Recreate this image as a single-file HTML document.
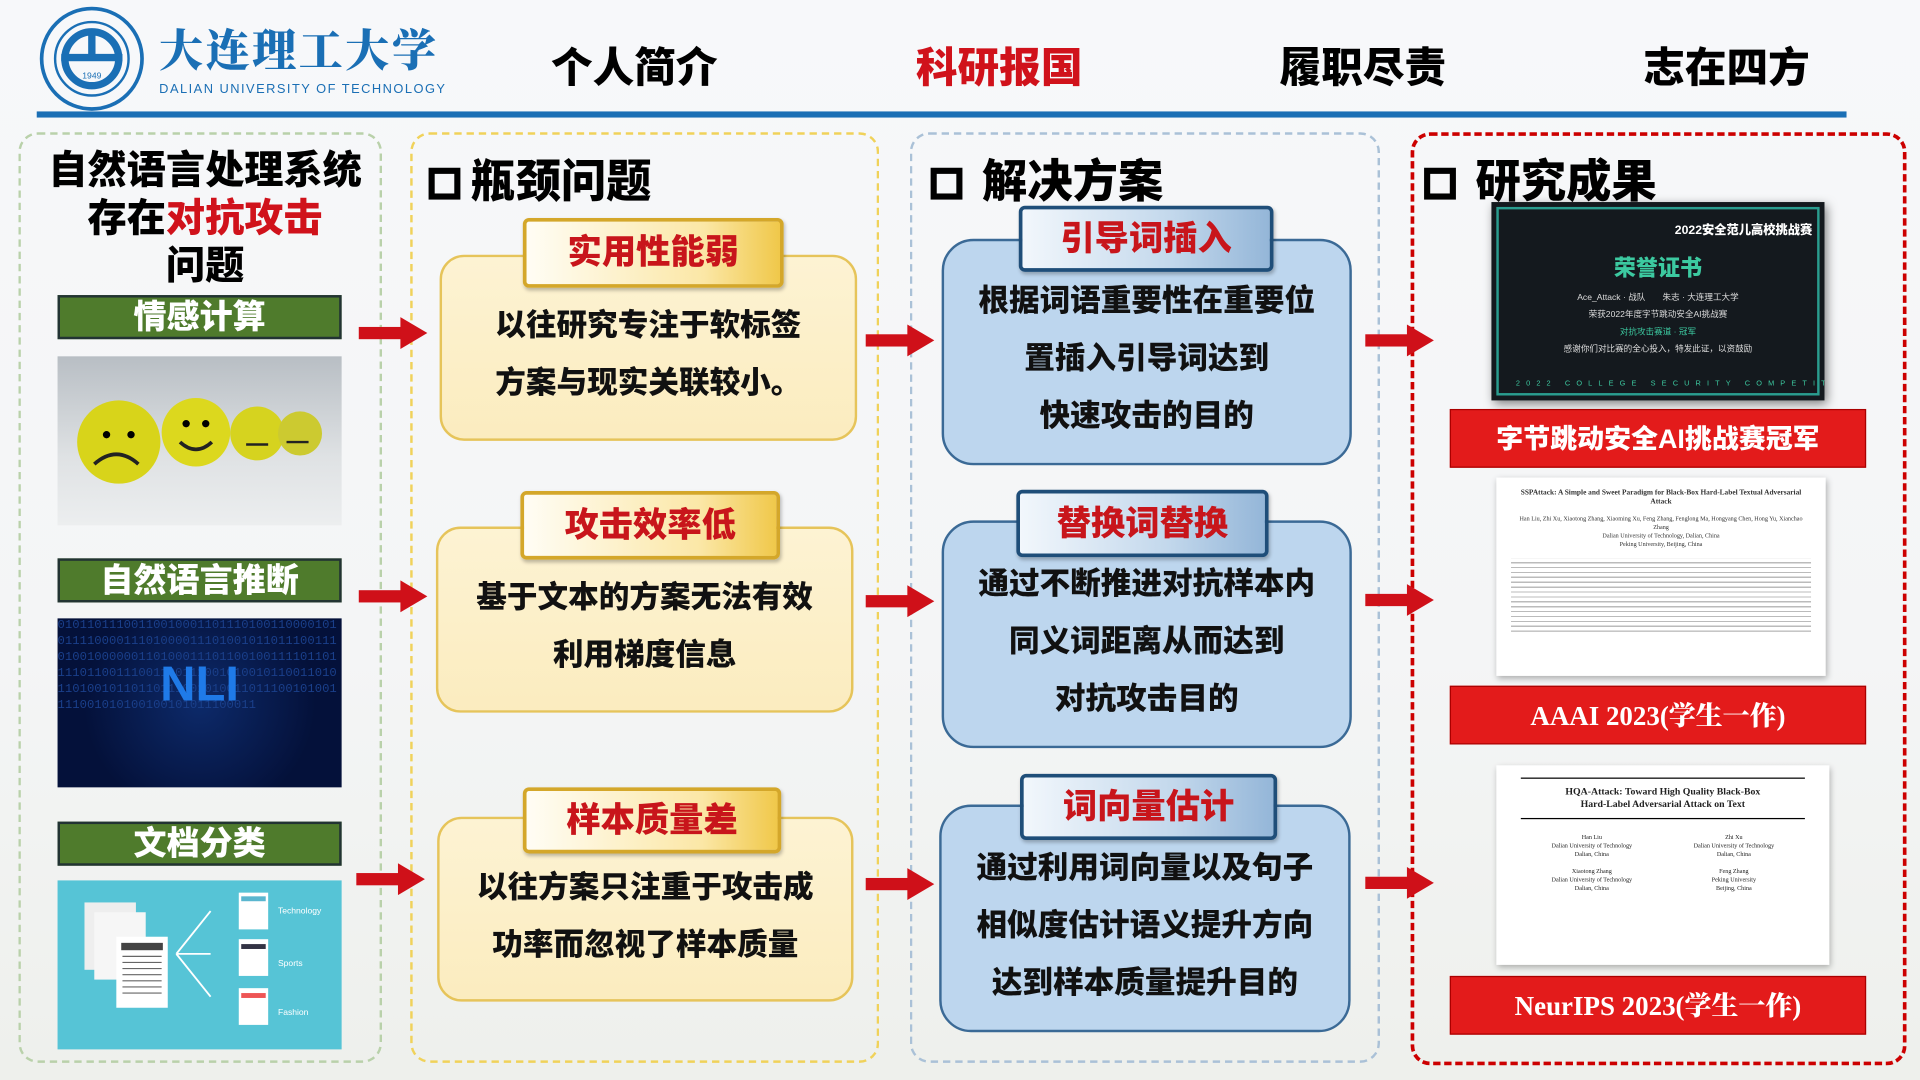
<!DOCTYPE html>
<html><head><meta charset="utf-8">
<style>
*{margin:0;padding:0;box-sizing:border-box}
html,body{width:1920px;height:1080px;overflow:hidden;background:#f3f5f7}
#s{position:absolute;left:0;top:0;width:1568px;height:882px;transform:scale(1.22449);transform-origin:0 0;
font-family:"Liberation Sans","Noto Sans CJK SC",sans-serif;background:linear-gradient(#f7f8fa 0%,#f4f5f6 60%,#eef0ec 100%)}
.a{position:absolute}
.t{font-weight:900;white-space:nowrap}
.panel{position:absolute;border:2.5px dashed;border-radius:16px}
.glab{position:absolute;left:47px;width:232px;height:36px;background:#4f7b2c;border:2px solid #233;color:#fff;font-size:27px;font-weight:900;text-align:center;line-height:32px}
.cream{position:absolute;background:linear-gradient(#fdf3d3,#fbecbf);border:2px solid #e6c45a;border-radius:20px}
.ytab{position:absolute;background:linear-gradient(90deg,#fffdf5,#fbe7a6 70%,#f0c84a);border:3px solid #d4a72a;border-radius:5px;color:#c8151b;font-size:28px;font-weight:900;text-align:center;box-shadow:1px 2px 3px rgba(0,0,0,.25)}
.blue{position:absolute;background:#bdd6ee;border:2.5px solid #3b6a96;border-radius:26px}
.btab{position:absolute;background:linear-gradient(90deg,#f2f7fc,#c3d8ec 60%,#94b6d8);border:3px solid #1f4e79;border-radius:5px;color:#c8151b;font-size:28px;font-weight:900;text-align:center;box-shadow:1px 2px 3px rgba(0,0,0,.25)}
.bt{position:absolute;font-size:25px;font-weight:900;text-align:center;white-space:nowrap;color:#111}
.rb{position:absolute;left:1184px;width:340px;height:48px;background:#e31b1b;color:#fff;font-size:22px;font-weight:900;text-align:center;line-height:48px;border:1px solid #a00}
.nav{position:absolute;top:28px;font-size:34px;font-weight:900}
.sq{display:inline-block;width:26px;height:26px;border:5px solid #000;vertical-align:-2px;margin-right:8px}
.pt{position:absolute;top:118px;font-size:37px;font-weight:900;white-space:nowrap}
</style></head><body><div id="s">

<!-- header -->
<svg class="a" style="left:30px;top:4px" width="92" height="88" viewBox="0 0 92 88">
<circle cx="45" cy="44" r="41" fill="none" stroke="#1a6fb5" stroke-width="3"/>
<circle cx="45" cy="44" r="30" fill="none" stroke="#1a6fb5" stroke-width="2"/>
<circle cx="45" cy="44" r="22" fill="none" stroke="#1a6fb5" stroke-width="6"/>
<rect x="20" y="40" width="50" height="6" fill="#1a6fb5"/>
<rect x="42" y="24" width="6" height="18" fill="#1a6fb5"/>
<text x="45" y="60" font-size="7" text-anchor="middle" fill="#1a6fb5">1949</text>
</svg>
<div class="a t" style="left:130px;top:14px;font-size:36px;color:#1a6fb5;font-family:'Liberation Serif','Noto Serif CJK SC',serif;letter-spacing:2px">大连理工大学</div>
<div class="a" style="left:130px;top:67px;font-size:10.5px;color:#1a6fb5;letter-spacing:1.2px">DALIAN UNIVERSITY OF TECHNOLOGY</div>
<div class="nav" style="left:450px">个人简介</div>
<div class="nav" style="left:748px;color:#d0121b">科研报国</div>
<div class="nav" style="left:1045px">履职尽责</div>
<div class="nav" style="left:1342px">志在四方</div>
<div class="a" style="left:30px;top:91px;width:1478px;height:5px;background:#1a6fb5"></div>

<!-- panels -->
<div class="panel" style="left:15px;top:108px;width:297px;height:760px;border-color:#b9d1aa"></div>
<div class="panel" style="left:335px;top:108px;width:383px;height:760px;border-color:#f0d25a"></div>
<div class="panel" style="left:743px;top:108px;width:384px;height:760px;border-color:#aac1d7"></div>
<div class="panel" style="left:1152px;top:108px;width:405px;height:762px;border-color:#c00;border-width:3px"></div>

<!-- panel 1 -->
<div class="a t" style="left:15px;width:305px;top:120px;text-align:center;font-size:32px;line-height:39px">自然语言处理系统<br>存在<span style="color:#d0121b">对抗攻击</span><br>问题</div>
<div class="glab" style="top:241px">情感计算</div>
<div class="a" style="left:47px;top:291px;width:232px;height:138px;background:linear-gradient(#b8bec4,#dfe2e4 60%,#eceeef);overflow:hidden">
 <svg width="232" height="138"><circle cx="50" cy="70" r="34" fill="#d8d41a"/><circle cx="113" cy="62" r="28" fill="#dcd81e"/><circle cx="163" cy="63" r="22" fill="#d6d31f"/><circle cx="198" cy="63" r="18" fill="#ccca30"/>
 <path d="M30 88 q18 -16 36 0" stroke="#222" stroke-width="3" fill="none"/><path d="M100 70 q13 12 26 0" stroke="#222" stroke-width="3" fill="none"/><circle cx="40" cy="64" r="3"/><circle cx="60" cy="64" r="3"/><circle cx="105" cy="55" r="3"/><circle cx="121" cy="55" r="3"/>
 <path d="M154 72 h18 M187 70 h18" stroke="#222" stroke-width="2"/></svg></div>
<div class="glab" style="top:456px">自然语言推断</div>
<div class="a" style="left:47px;top:505px;width:232px;height:138px;background:radial-gradient(circle at 50% 50%,#0d2a6a,#04113a 70%);overflow:hidden;color:#1a3f8a;font-size:10px;line-height:13px;font-family:'Liberation Mono',monospace;word-break:break-all">0101101110011001000110111010011000010101111000011101000011101001011011100111010010000001101000111011001001111011011110110011100110011100101001011001101011010010110110111001010011011100101001111001010100100101011100011
<div class="a t" style="left:0;width:232px;top:48px;text-align:center;font-size:40px;color:#1f7ae8;font-family:'Liberation Sans',sans-serif">NLI</div></div>
<div class="glab" style="top:671px">文档分类</div>
<div class="a" style="left:47px;top:719px;width:232px;height:138px;background:#56c4d6">
 <svg width="232" height="138"><rect x="22" y="18" width="42" height="55" fill="#eee"/><rect x="30" y="26" width="42" height="55" fill="#f6f6f6"/><rect x="48" y="46" width="42" height="58" fill="#fff"/><rect x="52" y="51" width="34" height="6" fill="#444"/>
 <g stroke="#666" stroke-width="1"><path d="M53 62h32M53 67h32M53 72h32M53 77h32M53 82h32M53 87h32M53 92h32"/></g>
 <path d="M97 60 L125 25 M97 60 L125 60 M97 60 L125 95" stroke="#fff" stroke-width="1.5" fill="none"/>
 <rect x="148" y="10" width="24" height="30" fill="#fff"/><rect x="148" y="48" width="24" height="30" fill="#fff"/><rect x="148" y="88" width="24" height="30" fill="#fff"/>
 <rect x="150" y="13" width="20" height="4" fill="#5ab6cf"/><rect x="150" y="52" width="20" height="4" fill="#334"/><rect x="150" y="92" width="20" height="4" fill="#e55"/>
 <text x="180" y="27" font-size="7" fill="#fff">Technology</text><text x="180" y="70" font-size="7" fill="#fff">Sports</text><text x="180" y="110" font-size="7" fill="#fff">Fashion</text></svg></div>

<!-- arrows -->
<svg class="a" style="left:0;top:0" width="1568" height="882">
<defs><g id="ar"><rect x="0" y="-5" width="38" height="10" fill="#cf1019"/><polygon points="34,-13 56,0 34,13" fill="#cf1019"/></g></defs>
<use href="#ar" transform="translate(293,272)"/><use href="#ar" transform="translate(293,487)"/><use href="#ar" transform="translate(291,718)"/>
<use href="#ar" transform="translate(707,278)"/><use href="#ar" transform="translate(707,491)"/><use href="#ar" transform="translate(707,722)"/>
<use href="#ar" transform="translate(1115,278)"/><use href="#ar" transform="translate(1115,490)"/><use href="#ar" transform="translate(1115,721)"/>
</svg>

<!-- panel 2 -->
<div class="pt" style="left:350px"><span class="sq"></span>瓶颈问题</div>
<div class="cream" style="left:359px;top:208px;width:341px;height:152px"></div>
<div class="ytab" style="left:427px;top:178px;width:213px;height:57px;line-height:50px">实用性能弱</div>
<div class="bt" style="left:359px;width:341px;top:243px;line-height:47px">以往研究专注于软标签<br>方案与现实关联较小。</div>
<div class="cream" style="left:356px;top:430px;width:341px;height:152px"></div>
<div class="ytab" style="left:425px;top:401px;width:212px;height:56px;line-height:50px">攻击效率低</div>
<div class="bt" style="left:356px;width:341px;top:465px;line-height:47px">基于文本的方案无法有效<br>利用梯度信息</div>
<div class="cream" style="left:357px;top:667px;width:340px;height:151px"></div>
<div class="ytab" style="left:427px;top:643px;width:211px;height:54px;line-height:48px">样本质量差</div>
<div class="bt" style="left:357px;width:340px;top:702px;line-height:47px">以往方案只注重于攻击成<br>功率而忽视了样本质量</div>

<!-- panel 3 -->
<div class="pt" style="left:760px"><span class="sq" style="margin-right:16px"></span>解决方案</div>
<div class="blue" style="left:769px;top:195px;width:335px;height:185px"></div>
<div class="btab" style="left:832px;top:168px;width:208px;height:54px;line-height:48px">引导词插入</div>
<div class="bt" style="left:769px;width:335px;top:223px;line-height:47px">根据词语重要性在重要位<br>置插入引导词达到<br>快速攻击的目的</div>
<div class="blue" style="left:769px;top:425px;width:335px;height:186px"></div>
<div class="btab" style="left:830px;top:400px;width:206px;height:55px;line-height:49px">替换词替换</div>
<div class="bt" style="left:769px;width:335px;top:454px;line-height:47px">通过不断推进对抗样本内<br>同义词距离从而达到<br>对抗攻击目的</div>
<div class="blue" style="left:767px;top:657px;width:336px;height:186px"></div>
<div class="btab" style="left:833px;top:632px;width:210px;height:54px;line-height:48px">词向量估计</div>
<div class="bt" style="left:767px;width:336px;top:686px;line-height:47px">通过利用词向量以及句子<br>相似度估计语义提升方向<br>达到样本质量提升目的</div>

<!-- panel 4 -->
<div class="pt" style="left:1163px"><span class="sq" style="margin-right:16px"></span>研究成果</div>
<div class="a" style="left:1218px;top:165px;width:272px;height:162px;background:#14191e;box-shadow:2px 3px 8px rgba(0,0,0,.5);overflow:hidden">
 <div class="a" style="left:4px;top:4px;right:4px;bottom:4px;border:2px solid #2a9d8f"></div>
 <div class="a t" style="left:0;right:10px;top:14px;text-align:right;font-size:10px;color:#fff">2022安全范儿高校挑战赛</div>
 <div class="a t" style="left:0;right:0;top:40px;text-align:center;font-size:18px;color:#3cc9a0">荣誉证书</div>
 <div class="a" style="left:0;right:0;top:72px;text-align:center;font-size:7px;color:#ddd;line-height:14px">Ace_Attack · 战队　　朱志 · 大连理工大学<br>荣获2022年度字节跳动安全AI挑战赛<br><span style="color:#3cc9a0">对抗攻击赛道 · 冠军</span><br>感谢你们对比赛的全心投入，特发此证，以资鼓励</div>
 <div class="a" style="left:20px;bottom:10px;font-size:6px;color:#3cc9a0;letter-spacing:5px;white-space:nowrap">2022 COLLEGE SECURITY COMPETITION</div>
</div>
<div class="rb" style="top:334px">字节跳动安全AI挑战赛冠军</div>
<div class="a" style="left:1222px;top:390px;width:269px;height:162px;background:#fff;box-shadow:1px 2px 5px rgba(0,0,0,.3);font-family:'Liberation Serif',serif;font-size:5px;color:#333;text-align:center;padding:10px 12px;line-height:7px;overflow:hidden">
 <b style="font-size:6px">SSPAttack: A Simple and Sweet Paradigm for Black-Box Hard-Label Textual Adversarial Attack</b><br><br>Han Liu, Zhi Xu, Xiaotong Zhang, Xiaoming Xu, Feng Zhang, Fenglong Ma, Hongyang Chen, Hong Yu, Xianchao Zhang<br>Dalian University of Technology, Dalian, China<br>Peking University, Beijing, China<br><br>
 <div style="text-align:left;color:#777;height:60px;background:repeating-linear-gradient(#fff 0 3px,#bbb 3px 4px)"></div></div>
<div class="rb" style="top:560px;font-family:'Liberation Serif','Noto Serif CJK SC',serif">AAAI 2023(学生一作)</div>
<div class="a" style="left:1222px;top:625px;width:272px;height:163px;background:#fff;box-shadow:1px 2px 5px rgba(0,0,0,.3);font-family:'Liberation Serif',serif;font-size:8px;color:#222;text-align:center;padding:10px 20px;line-height:10px;overflow:hidden">
 <div style="border-top:1.5px solid #000;padding-top:6px"><b>HQA-Attack: Toward High Quality Black-Box<br>Hard-Label Adversarial Attack on Text</b></div>
 <div style="border-top:1px solid #000;margin-top:6px;height:100px;font-size:5px;line-height:7px;display:flex;justify-content:space-around;padding-top:12px"><div>Han Liu<br>Dalian University of Technology<br>Dalian, China<br><br>Xiaotong Zhang<br>Dalian University of Technology<br>Dalian, China</div><div>Zhi Xu<br>Dalian University of Technology<br>Dalian, China<br><br>Feng Zhang<br>Peking University<br>Beijing, China</div></div></div>
<div class="rb" style="top:797px;font-family:'Liberation Serif','Noto Serif CJK SC',serif">NeurIPS 2023(学生一作)</div>
</div></body></html>
